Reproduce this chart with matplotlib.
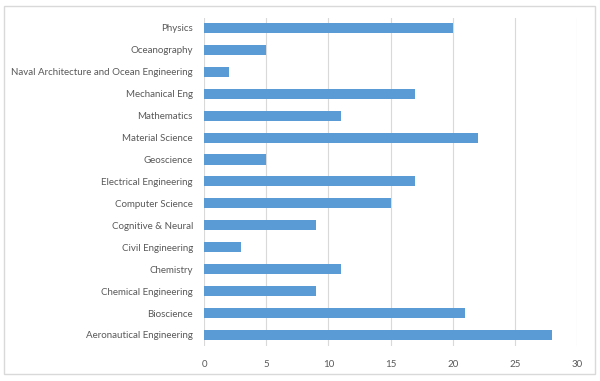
import matplotlib
matplotlib.use("Agg")
import matplotlib.pyplot as plt
from matplotlib.patches import Rectangle

departments = [
    "Aeronautical Engineering", "Bioscience", "Chemical Engineering", "Chemistry",
    "Civil Engineering", "Cognitive & Neural", "Computer Science",
    "Electrical Engineering", "Geoscience", "Material Science", "Mathematics",
    "Mechanical Eng", "Naval Architecture and Ocean Engineering", "Oceanography",
    "Physics",
]
counts = [28, 21, 9, 11, 3, 9, 15, 17, 5, 22, 11, 17, 2, 5, 20]
xticks = [0, 5, 10, 15, 20, 25, 30]

plt.rcParams['font.family'] = ['Lato', 'DejaVu Sans']

fig = plt.figure(figsize=(6, 3.81), dpi=100)
ax = fig.add_axes([0.34, 0.092, 0.6217, 0.861])

ax.barh(range(len(departments)), counts, height=0.46, color="#5B9BD5", zorder=3)
ax.set_yticks(range(len(departments)))
ax.set_yticklabels(departments)
ax.set_ylim(-0.5, len(departments) - 0.544)
ax.set_xlim(0, 30)
ax.set_xticks(xticks)
ax.xaxis.grid(True, color="#D9D9D9", linewidth=0.8, zorder=0)
for s in ax.spines.values():
    s.set_visible(False)
ax.tick_params(axis="both", length=0, labelsize=7, colors="#595959")
ax.tick_params(axis="x", pad=10)
ax.tick_params(axis="y", pad=8)

# chart border
fig.patches.append(Rectangle((0.007, 0.018), 0.984, 0.966, transform=fig.transFigure,
                             fill=False, edgecolor="#D9D9D9", linewidth=1))

fig.savefig("out.png", dpi=100)
